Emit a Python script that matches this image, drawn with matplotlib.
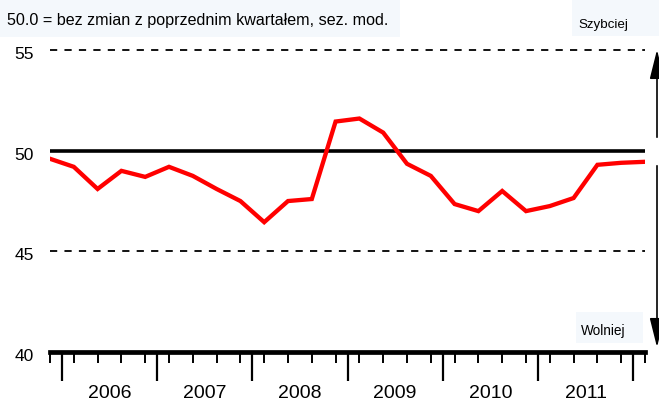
import matplotlib
matplotlib.use("Agg")
import matplotlib.pyplot as plt
from matplotlib.patches import Rectangle, FancyArrowPatch

plt.rcParams['font.family'] = ['Liberation Sans', 'DejaVu Sans']

# quarterly index, 2005 Q4 .. 2012 Q1
values = [49.6, 49.2, 48.1, 49.0, 48.7, 49.2, 48.75, 48.1, 47.5, 46.45,
          47.5, 47.6, 51.45, 51.6, 50.9, 49.35, 48.75, 47.35, 47.0, 48.0,
          47.0, 47.25, 47.65, 49.3, 49.4, 49.45]
years = ['2006', '2007', '2008', '2009', '2010', '2011']
ytick_vals = [40, 45, 50, 55]
note = "50.0 = bez zmian z poprzednim kwartałem, sez. mod."

W, H = 659, 403
fig = plt.figure(figsize=(W / 100, H / 100), dpi=100)
fig.patch.set_facecolor('white')

def fx(px):
    return px / W

def fy(py):
    # pixel from top -> figure fraction
    return 1 - py / H

ax = fig.add_axes([fx(50), fy(352), fx(595), (352 - 19.9) / H])
ax.set_xlim(0, len(values) - 1)
ax.set_ylim(40, 56.5)
for s in ['top', 'left', 'right']:
    ax.spines[s].set_visible(False)
ax.spines['bottom'].set_linewidth(3.4)
ax.set_facecolor('none')

x = list(range(len(values)))
ax.axhline(55, color='black', lw=1.3, ls=(0, (4, 4)))
ax.axhline(45, color='black', lw=1.3, ls=(0, (4, 4)))
ax.axhline(50, color='black', lw=2.6)
ax.plot(x, values, color='#ff0000', lw=3.1, solid_joinstyle='miter')

# ticks: quarters (minor) and year boundaries (major)
ax.set_xticks([i for i in x], minor=True)
ax.set_xticks([0.5 + 4 * k for k in range(7)])
ax.tick_params(axis='x', which='minor', length=8, width=1.4, direction='out')
ax.tick_params(axis='x', which='major', length=21, width=1.6, direction='out',
               labelbottom=False)
ax.set_yticks([])

for k, yr in enumerate(years):
    ax.text(2.5 + 4 * k, 37.95, yr, ha='center', va='center', fontsize=14,
            clip_on=False)

for v in ytick_vals:
    ax.text(-0.68, v - 0.22, str(v), ha='right', va='center', fontsize=12.5,
            clip_on=False)

# text boxes
bg = '#f4f8fc'
fig.patches.append(Rectangle((0, fy(37)), fx(400), 37 / H, transform=fig.transFigure,
                             facecolor=bg, edgecolor='none', zorder=0))
fig.patches.append(Rectangle((fx(572), fy(36)), fx(87), 36 / H, transform=fig.transFigure,
                             facecolor=bg, edgecolor='none', zorder=0))
fig.patches.append(Rectangle((fx(576), fy(343)), fx(67), 31 / H, transform=fig.transFigure,
                             facecolor=bg, edgecolor='none', zorder=0))
fig.text(fx(7), fy(20), note, ha='left', va='center', fontsize=11.6)
fig.text(fx(603), fy(25), 'Szybciej', ha='center', va='center', fontsize=9.6)
fig.text(fx(603), fy(331), 'Wolniej', ha='center', va='center', fontsize=9.8)

# direction arrows on the right
style = '-|>,head_length=1.8,head_width=0.45'
fig.add_artist(FancyArrowPatch(
    (fx(657), fy(140)), (fx(657), fy(47)), transform=fig.transFigure,
    arrowstyle=style, mutation_scale=10, lw=1.2, color='black'))
fig.add_artist(FancyArrowPatch(
    (fx(657), fy(163)), (fx(657), fy(350)), transform=fig.transFigure,
    arrowstyle=style, mutation_scale=10, lw=1.2, color='black'))

fig.savefig('out.png', dpi=100)
